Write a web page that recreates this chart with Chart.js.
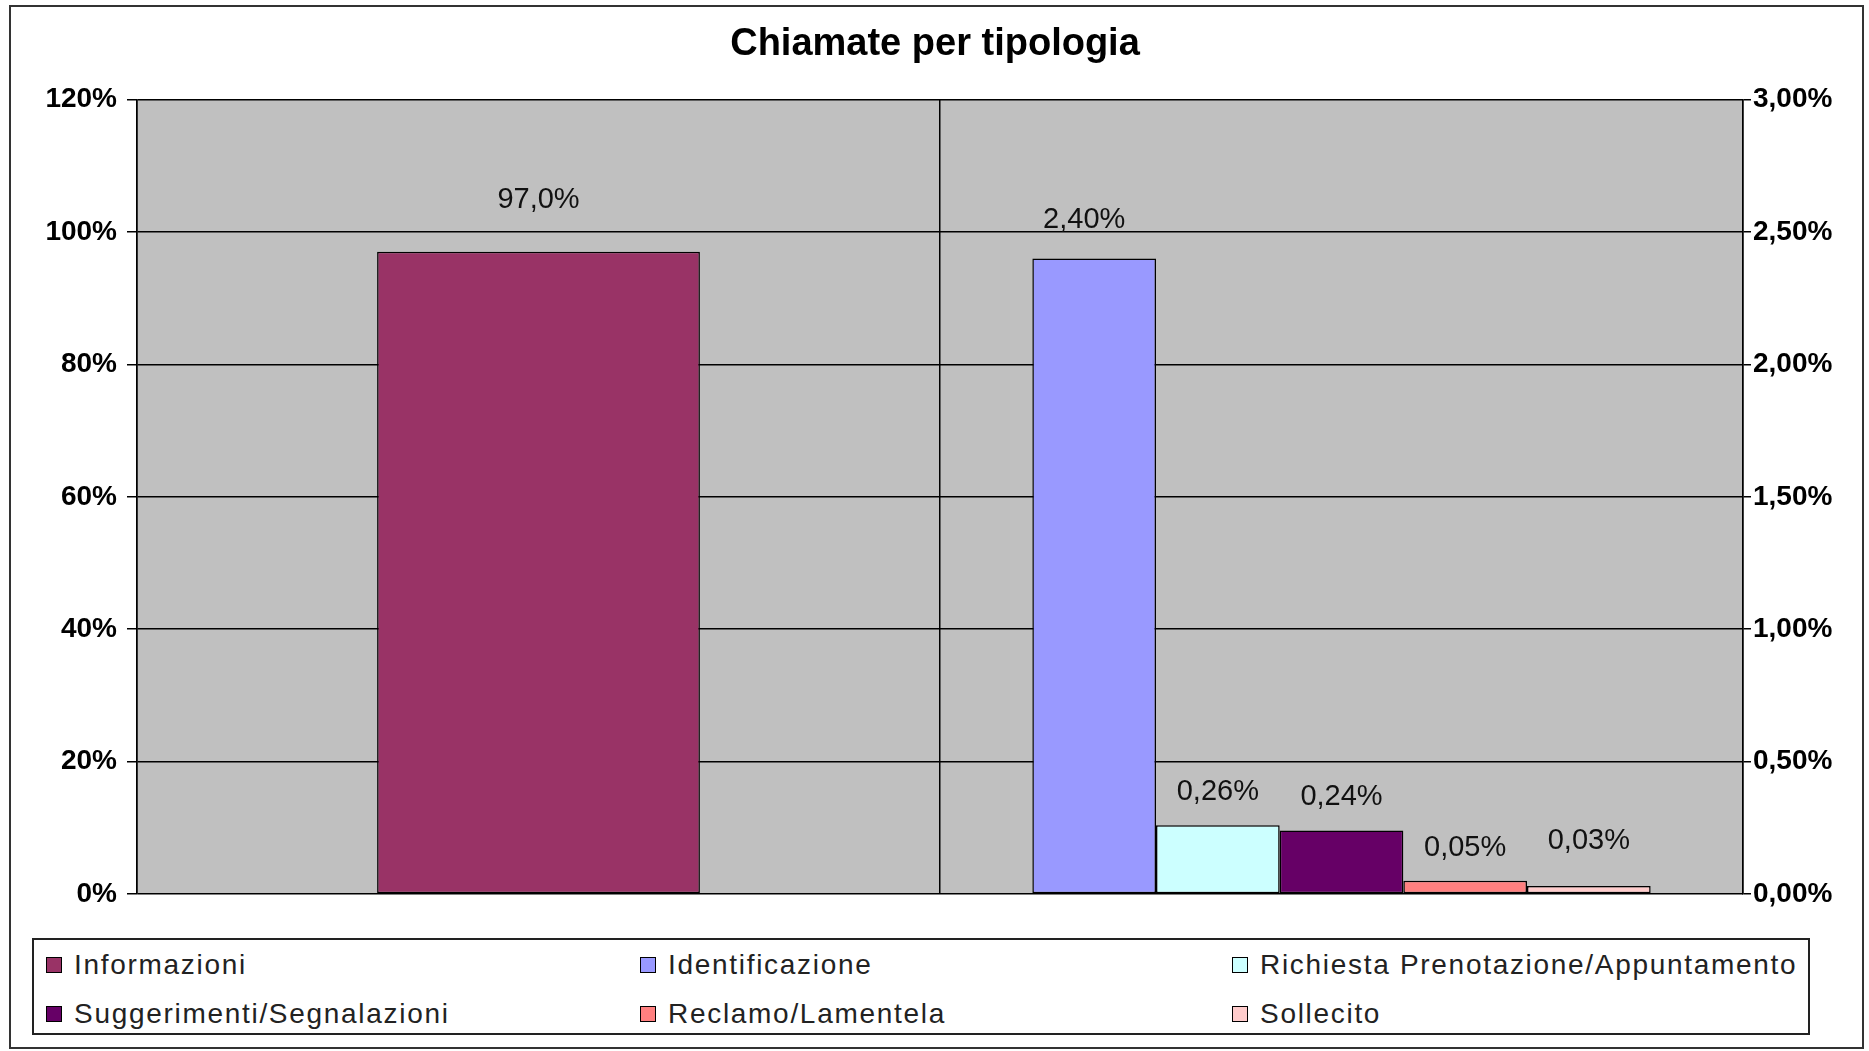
<!DOCTYPE html>
<html lang="it">
<head>
    <meta charset="UTF-8">
    <title>Chiamate per tipologia</title>
    <script src="https://cdn.jsdelivr.net/npm/chart.js"></script>
    <style>
        body {
            margin: 0;
            background: #fff;
            font-family: "Liberation Sans", Arial, sans-serif;
        }
        #wrap {
            position: relative;
            width: 1869px;
            height: 1051px;
        }
        #frame {
            position: absolute;
            left: 9px;
            top: 5px;
            width: 1851px;
            height: 1040px;
            border: 2px solid #333;
            pointer-events: none;
        }
        #legend {
            position: absolute;
            left: 32px;
            top: 938px;
            width: 1778px;
            height: 97px;
            border: 2px solid #222;
            background: #fff;
            display: grid;
            grid-template-columns: 594px 592px 1fr;
            grid-template-rows: 49px 49px;
            padding-left: 12px;
            box-sizing: border-box;
        }
        .item {
            display: flex;
            align-items: center;
            font-size: 28px;
            letter-spacing: 1.7px;
            color: #222;
            white-space: nowrap;
        }
        .item span.box {
            width: 14px;
            height: 14px;
            border: 1.5px solid #000;
            margin-right: 12px;
            flex: none;
        }
    </style>
</head>
<body>
<div id="wrap">
    <canvas id="chart" width="1869" height="1051"></canvas>
    <div id="legend"></div>
    <div id="frame"></div>
</div>

<script>
const categories = ['Primario', 'Secondario'];
const seriesNames = ['Informazioni', 'Identificazione', 'Richiesta Prenotazione/Appuntamento',
    'Suggerimenti/Segnalazioni', 'Reclamo/Lamentela', 'Sollecito'];
const seriesValues = [97.0, 2.40, 0.26, 0.24, 0.05, 0.03];
const seriesColors = ['#993366', '#9999FF', '#CCFFFF', '#660066', '#FF8080', '#FFCCCC'];
const leftTicks = [0, 20, 40, 60, 80, 100, 120];
const rightTicks = [0, 0.5, 1, 1.5, 2, 2.5, 3];

const fontFamily = '"Liberation Sans", Arial, sans-serif';
const fmt = (v, d) => v.toFixed(d).replace('.', ',') + '%';

// first series on the left axis, first category; the rest on the right axis, second category.
// skipNull keeps the empty slots out of each group
const datasets = seriesNames.map((name, i) => ({
    label: name,
    data: i === 0 ? [seriesValues[i], null] : [null, seriesValues[i]],
    backgroundColor: seriesColors[i],
    borderColor: '#000',
    borderWidth: 1.5,
    borderSkipped: false,
    skipNull: true,
    yAxisID: i === 0 ? 'y' : 'y2',
    categoryPercentage: i === 0 ? 0.402 : 0.77,
    barPercentage: 1
}));

const plotBackground = {
    id: 'plotBackground',
    beforeDraw(chart) {
        const { ctx, chartArea: a } = chart;
        ctx.save();
        ctx.fillStyle = '#C0C0C0';
        ctx.fillRect(a.left, a.top, a.right - a.left, a.bottom - a.top);
        ctx.restore();
    }
};

const valueLabels = {
    id: 'valueLabels',
    afterDatasetsDraw(chart, args, opts) {
        const { ctx } = chart;
        ctx.save();
        ctx.font = '29px ' + fontFamily;
        ctx.fillStyle = '#111';
        ctx.textAlign = 'center';
        ctx.textBaseline = 'middle';
        chart.data.datasets.forEach((ds, i) => {
            const meta = chart.getDatasetMeta(i);
            meta.data.forEach((el, j) => {
                const v = ds.data[j];
                if (v === null) return;
                ctx.fillText(fmt(v, i === 0 ? 1 : 2), el.x + opts.shifts[i], el.y - opts.offsets[i]);
            });
        });
        ctx.restore();
    }
};

new Chart(document.getElementById('chart'), {
    type: 'bar',
    data: { labels: categories, datasets: datasets },
    plugins: [plotBackground, valueLabels],
    options: {
        responsive: false,
        animation: false,
        layout: { padding: { left: 7, right: 6, top: 0, bottom: 157 } },
        plugins: {
            legend: { display: false },
            tooltip: { enabled: false },
            title: {
                display: true,
                text: 'Chiamate per tipologia',
                color: '#000',
                font: { family: fontFamily, size: 38, weight: 'bold' },
                padding: { top: 22, bottom: 32 }
            },
            valueLabels: {
                offsets: [52, 38, 33, 33, 33, 45],
                shifts: [0, -10, 0, 0, 0, 0]
            }
        },
        scales: {
            x: {
                offset: true,
                ticks: { display: false },
                grid: { color: '#000', lineWidth: 1.5, drawTicks: false, offset: true },
                border: { display: false },
                afterFit: s => { s.height = 0; }
            },
            y: {
                position: 'left',
                min: 0,
                max: 120,
                afterBuildTicks: s => { s.ticks = leftTicks.map(v => ({ value: v })); },
                ticks: {
                    color: '#000',
                    padding: 10,
                    font: { family: fontFamily, size: 28, weight: 'bold' },
                    callback: v => v + '%'
                },
                grid: { color: '#000', lineWidth: 1.5, tickLength: 10 },
                border: { color: '#000', width: 1.5 },
                afterFit: s => { s.width = 130; }
            },
            y2: {
                position: 'right',
                min: 0,
                max: 3,
                afterBuildTicks: s => { s.ticks = rightTicks.map(v => ({ value: v })); },
                ticks: {
                    color: '#000',
                    padding: 2,
                    font: { family: fontFamily, size: 28, weight: 'bold' },
                    callback: v => fmt(v, 2)
                },
                grid: { color: '#000', lineWidth: 1.5, tickLength: 8, drawOnChartArea: false },
                border: { color: '#000', width: 1.5 },
                afterFit: s => { s.width = 120; }
            }
        }
    }
});

// legend in a framed grid, three columns by two rows
const legend = document.getElementById('legend');
seriesNames.forEach((name, i) => {
    const item = document.createElement('div');
    item.className = 'item';
    item.innerHTML = `<span class="box" style="background:${seriesColors[i]}"></span>`;
    item.appendChild(document.createTextNode(name));
    legend.appendChild(item);
});
</script>
</body>
</html>
